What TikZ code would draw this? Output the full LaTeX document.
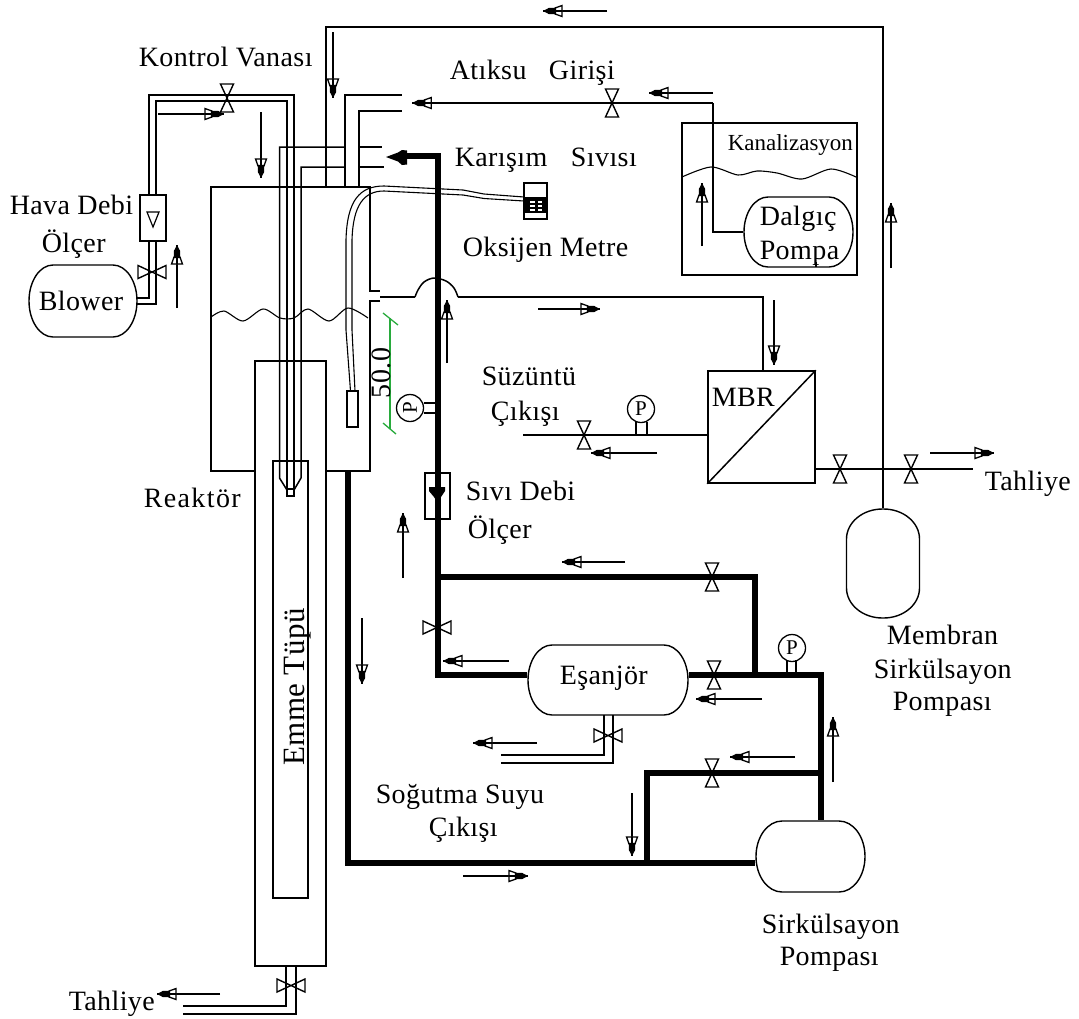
\documentclass[tikz,border=0pt]{standalone}
\usepackage{fontspec}
\setmainfont[LetterSpace=1.5]{Liberation Serif}
\usetikzlibrary{decorations.markings}
\newcommand{\flowar}[5]{\coordinate (#1a) at (#2,#3);\coordinate (#1b) at (#4,#5);\draw[flowline] (#1a) -- (#1b);}
% rounded vessel: name, cx, cy, w, h, corner rx, corner ry
\newcommand{\vessel}[7]{%
  \node[box,draw=none,minimum width=#4pt,minimum height=#5pt] (#1) at (#2,#3) {};
  \pgfmathsetmacro{\vL}{#2-#4/2}\pgfmathsetmacro{\vR}{#2+#4/2}%
  \pgfmathsetmacro{\vT}{#3-#5/2}\pgfmathsetmacro{\vB}{#3+#5/2}%
  \draw[line width=1.4pt] (\vL+#6,\vT) -- (\vR-#6,\vT)
    arc[x radius=#6pt,y radius=#7pt,start angle=90,end angle=0] -- (\vR,\vB-#7)
    arc[x radius=#6pt,y radius=#7pt,start angle=0,end angle=-90] -- (\vL+#6,\vB)
    arc[x radius=#6pt,y radius=#7pt,start angle=270,end angle=180] -- (\vL,\vT+#7)
    arc[x radius=#6pt,y radius=#7pt,start angle=180,end angle=90] -- cycle;}
\tikzset{
  x=1pt,y=-1pt,
  every path/.style={line width=1.5pt},
  pipe/.style={draw=black,line width=1.5pt,line join=miter},
  thick pipe/.style={draw=black,line width=6pt,line join=miter},
  box/.style={draw=black,line width=1.5pt,inner sep=0,rectangle},
  gauge/.style={draw=black,circle,line width=1.3pt,inner sep=0,minimum size=27pt,font=\fontsize{21}{21}\selectfont},
  lab/.style={anchor=base west,inner sep=0,font=\fontsize{28}{28}\selectfont},
  flowline/.style={line width=1.4pt,decoration={markings,mark=at position 0.999 with {
      \draw[line width=1.3pt,fill=white] (-19pt,-5.5pt)--(-19pt,5.5pt)--(-12pt,3pt)--(-12pt,-3pt)--cycle;
      \draw[line width=1.3pt] (-19pt,0pt)--(-10pt,0pt);
      \fill (-13pt,-3pt)--(-6pt,-3.2pt)--(0pt,0pt)--(-6pt,3.2pt)--(-13pt,3pt)--cycle;}},postaction={decorate}},
  vvalve/.pic={\draw[line width=1.4pt] (-6.5pt,-14pt)--(6.5pt,-14pt)--(-6.5pt,14pt)--(6.5pt,14pt)--cycle;},
  hvalve/.pic={\draw[line width=1.4pt] (-14pt,-6.5pt)--(-14pt,6.5pt)--(14pt,-6.5pt)--(14pt,6.5pt)--cycle;},
}
\definecolor{dimgreen}{RGB}{40,170,60}
\begin{document}
\begin{tikzpicture}
\useasboundingbox (0,0) rectangle (1079,1018);
% ---------- equipment ----------
\vessel{blower}{83}{301}{108}{72}{24}{36}
\node[box,minimum width=26pt,minimum height=46pt] (airmeter) at (153,218) {};
\node[box,minimum width=107pt,minimum height=112pt] (mbr) at (761.5,427) {};
\node[box,minimum width=175pt,minimum height=152pt] (sewer) at (769.5,199) {};
\vessel{dive}{798.5}{232}{109}{70}{24}{35}
\vessel{exch}{608}{680}{160}{70}{24}{35}
\vessel{mempump}{883}{563.5}{73}{109}{36}{30}
\vessel{circpump}{810.5}{856.5}{109}{71}{26}{35.5}
\node[box,minimum width=25pt,minimum height=46pt] (liqmeter) at (437.5,496) {};
\node[box,line width=2.5pt,minimum width=23pt,minimum height=36pt] (oxymeter) at (535.5,201) {};
\node[box,minimum width=11pt,minimum height=36pt] (probe) at (352.5,409) {};
\node[box,minimum width=71pt,minimum height=605pt] (tube) at (290.5,663.5) {};
\node[box,minimum width=35pt,minimum height=437pt] (suction) at (290.5,679.5) {};
\node[gauge,rotate=90] (g1) at (410,408) {P};
\node[gauge] (g2) at (792,648) {P};
\node[gauge] (g3) at (641,409) {P};
% ---------- reactor body ----------
\draw[pipe] (255,471)--(211,471)--(211,187)--(370,187)--(370,291)--(380,291);
\draw[pipe] (380,301)--(370,301)--(370,471)--(326,471);
\draw[line width=1.1pt] plot[smooth] coordinates {(211,317)(224,311)(243,321)(263,309)(280,318)(294,318)(308,309)(329,321)(348,308)(368,318)};
\draw[line width=1.1pt] plot[smooth] coordinates {(682,177)(711,167)(738,175)(757,171)(777,173)(802,179)(831,169)(856,177)};
% ---------- named junctions ----------
\coordinate (recycleBase) at (326,187);
\coordinate (recycleTop) at (326,27);
\coordinate (recycleCorner) at (883,27);
\coordinate (wwEnd) at (713,103);
\coordinate (wwTip) at (412,103);
\coordinate (mlTop) at (438,156);
\coordinate (mlBottom) at (438,675);
\coordinate (loopTop) at (755,577);
\coordinate (loopJ) at (755,675);
\coordinate (rightCorner) at (821,675);
\coordinate (bypassR) at (821,773);
\coordinate (bypassL) at (647,773);
\coordinate (bypassB) at (647,863);
\coordinate (outCorner) at (348,863);
\coordinate (outTop) at (348,471);
\coordinate (permEnd) at (523,435);
\coordinate (drainEnd) at (973,469);
\coordinate (mbrOut) at (763,297);
% ---------- thin pipes ----------
\draw[pipe] (recycleBase) -- (recycleTop) -- (recycleCorner) -- (mempump.north);
\draw[pipe] (345,187)--(345,95)--(402,95);
\draw[pipe] (359,187)--(359,111)--(402,111);
\draw[pipe] (dive.west) -| (wwEnd);
\draw[flowline] (wwEnd) -- (wwTip);
\draw[pipe] (359,147)--(382,147);
\draw[pipe] (359,167)--(384,167);
% air line
\draw[pipe] (149,195)--(149,95)--(294,95)--(294,489);
\draw[pipe] (156,195)--(156,101)--(287,101)--(287,489);
\draw[pipe] (149,241)--(149,298)--(137,298);
\draw[pipe] (156,241)--(156,304)--(137,304);
% mixed liquor into tube
\draw[pipe] (345,147)--(279.5,147)--(279.5,478)--(287,490);
\draw[pipe] (345,167)--(301,167)--(301,478)--(294,490);
\draw[pipe] (287,489) rectangle (294,496);
% reactor to MBR
\draw[pipe] plot[smooth,tension=.55] coordinates {(415,297)(418,290)(424,282)(434,278)(446,281)(454,288)(458,297)};
\draw[pipe] (380,297)--(415,297);
\draw[pipe] (458,297)--(mbrOut)--(mbr.north -| mbrOut);
\draw[pipe] (permEnd)--(mbr.west |- permEnd);
\draw[pipe] (mbr.south west)--(mbr.north east);
\draw[pipe] (mbr.east |- drainEnd)--(drainEnd);
\draw[pipe] (636,422)--(636,435) (647,422)--(647,435);
\draw[pipe] (787,660)--(787,673) (796,660)--(796,673);
\draw[pipe] (424,403)--(437,403) (424,413)--(437,413);
% oxygen probe cable
\draw[line width=1.1pt] (524,197)--(484,194)--(463,190)--(384,186) .. controls (360,186) and (347,200) .. (346,240) -- (346,330) -- (350.5,391);
\draw[line width=1.1pt] (524,201)--(484,198.5)--(463,195)--(384,191) .. controls (364,191) and (353,205) .. (352,240) -- (352,330) -- (355,391);
% cooling and bottom drains
\draw[pipe] (604,715)--(604,755)--(501,755);
\draw[pipe] (613,715)--(613,763)--(501,763);
\draw[pipe] (286,966)--(286,1006)--(183,1006);
\draw[pipe] (296,966)--(296,1014)--(183,1014);
% ---------- thick pipes ----------
\draw[thick pipe] (404,156) -- (mlTop) -- (mlBottom) -- (exch.west |- mlBottom);
\draw[thick pipe] (mlTop |- loopTop) -- (loopTop) -- (loopJ);
\draw[thick pipe] (exch.east |- rightCorner) -- (rightCorner) -- (circpump.north -| rightCorner);
\draw[thick pipe] (bypassR) -- (bypassL) -- (bypassB);
\draw[thick pipe] (outTop) -- (outCorner) -- (circpump.west |- outCorner);
\fill (386,157)--(398,152.5)--(402,150)--(407,150.5)--(407,164.5)--(402,165)--(398,161.5)--cycle;
\fill (429,487)--(445,487)--(445,491)--(441,497)--(438,503)--(434,497)--(429,491)--cycle;
% ---------- meter details ----------
\fill (524,197) rectangle (547,212.5);
\foreach \xx in {530,537.5}{\foreach \yy in {200.5,204.5,208.5}{\fill[white] (\xx,\yy) rectangle +(4.5,2.6);}}
\draw[line width=1.2pt] (147,212)--(159,212)--(153,227)--cycle;
\draw[pipe] (816,262)--(816,267);
% ---------- valves ----------
\pic at (227,98) {vvalve};
\pic at (152,272) {hvalve};
\pic at (612,103) {vvalve};
\pic at (584,435) {vvalve};
\pic at (840,469) {vvalve};
\pic at (911,469) {vvalve};
\pic at (712,577) {vvalve};
\pic at (437,627.5) {hvalve};
\pic at (714,675) {vvalve};
\pic at (712,773) {vvalve};
\pic at (608,735.5) {hvalve};
\pic at (291,985.5) {hvalve};
% ---------- dimension ----------
\draw[dimgreen,line width=1.1pt] (390,318)--(390,429);
\draw[dimgreen,line width=1.3pt] (383,313)--(398,325);
\draw[dimgreen,line width=1.3pt] (383,423)--(396,434);
\node[inner sep=0,rotate=90,font=\fontsize{28}{28}\selectfont] (dimtext) at (381,373) {50.0};
% ---------- flow arrows ----------
\flowar{fa}{607}{11}{543}{11}
\flowar{fb}{333}{32}{333}{98}
\flowar{fc}{158}{114}{224}{114}
\flowar{fd}{261}{112}{261}{178}
\flowar{fe}{177}{308}{177}{245}
\flowar{ff}{713}{93}{649}{93}
\flowar{fg}{702}{246}{702}{183}
\flowar{fh}{891}{268}{891}{203}
\flowar{fi}{538}{309}{600}{309}
\flowar{fj}{774}{300}{774}{365}
\flowar{fk}{447}{363}{447}{300}
\flowar{fl}{657}{453}{591}{453}
\flowar{fm}{930}{453}{994}{453}
\flowar{fn}{403}{578}{403}{513}
\flowar{fo}{625}{562}{562}{562}
\flowar{fp}{509}{661}{443}{661}
\flowar{fq}{762}{699}{696}{699}
\flowar{fr}{537}{743}{473}{743}
\flowar{fs}{795}{757}{730}{757}
\flowar{ft}{833}{782}{833}{717}
\flowar{fu}{632}{793}{632}{856}
\flowar{fv}{463}{876}{528}{876}
\flowar{fw}{362}{618}{362}{684}
\flowar{fx}{220}{994}{157}{994}
% ---------- labels ----------
\node[lab] (t1) at (138,66) {Kontrol Vanası};
\node[lab] (t2) at (449,79) {Atıksu\hspace{15pt} Girişi};
\node[lab] (t3) at (454,166) {Karışım\hspace{16pt} Sıvısı};
\node[lab] (t4) at (462,256) {Oksijen Metre};
\node[lab,font=\fontsize{23}{23}\selectfont\addfontfeature{LetterSpace=0}] (t5) at (727,150) {Kanalizasyon};
\node[lab] (t6) at (9,214) {Hava Debi};
\node[lab] (t7) at (41,252) {Ölçer};
\node[lab] (t8) at (38,310) {Blower};
\node[lab] (t9) at (759,225) {Dalgıç};
\node[lab] (t10) at (759,259) {Pompa};
\node[lab] (t11) at (481,385) {Süzüntü};
\node[lab] (t12) at (490,420) {Çıkışı};
\node[lab] (t13) at (711,406) {MBR};
\node[lab] (t14) at (984,490) {Tahliye};
\node[lab] (t15) at (465,500) {Sıvı Debi};
\node[lab] (t16) at (467,538) {Ölçer};
\node[lab,font=\fontsize{28}{28}\selectfont\addfontfeature{LetterSpace=5}] (t17) at (143,507) {Reaktör};
\node[inner sep=0,anchor=base,rotate=90,font=\fontsize{31}{31}\selectfont] (t18) at (304,687) {Emme Tüpü};
\node[lab] (t19) at (559,684) {Eşanjör};
\node[lab] (t20) at (375,803) {Soğutma Suyu};
\node[lab] (t21) at (428,836) {Çıkışı};
\node[lab] (t22) at (886,644) {Membran};
\node[lab] (t23) at (873,678) {Sirkülsayon};
\node[lab] (t24) at (892,710) {Pompası};
\node[lab] (t25) at (761,933) {Sirkülsayon};
\node[lab] (t26) at (779,965) {Pompası};
\node[lab] (t27) at (68,1010) {Tahliye};
\end{tikzpicture}
\end{document}
